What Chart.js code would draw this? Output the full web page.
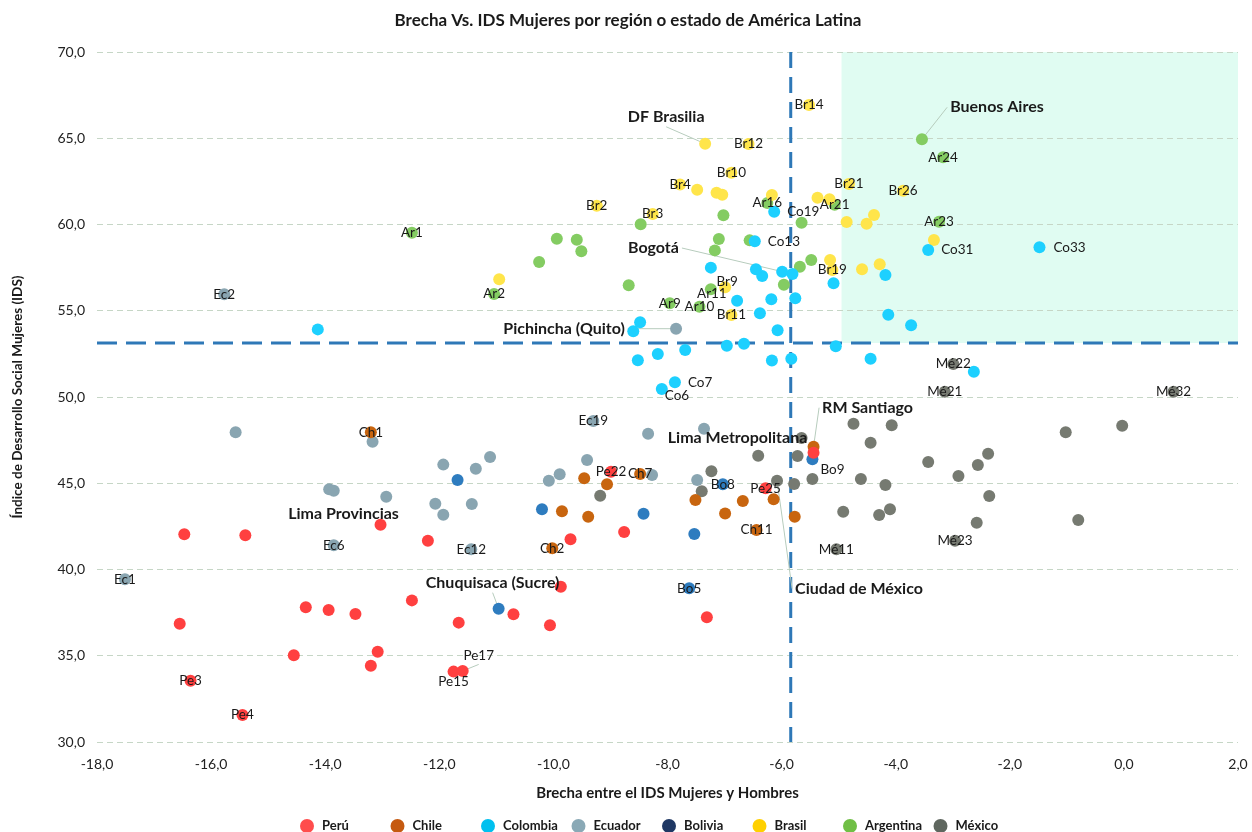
<!DOCTYPE html>
<html><head><meta charset="utf-8">
<script src="https://cdn.jsdelivr.net/npm/chart.js@4.4.1/dist/chart.umd.min.js"></script>
<style>html,body{margin:0;padding:0;background:#fff;}#wrap{width:1252px;height:832px;}</style>
</head><body><div id="wrap"><canvas id="c" width="1252" height="832"></canvas></div>
<script>
const FONT = 'Lato, "Open Sans", "Liberation Sans", sans-serif';
const chartTitle = 'Brecha Vs. IDS Mujeres por región o estado de América Latina';
const xTitle = 'Brecha entre el IDS Mujeres y Hombres';
const yTitle = 'Índice de Desarrollo Social Mujeres (IDS)';
const seriesNames = ['Perú','Chile','Colombia','Ecuador','Bolivia','Brasil','Argentina','México'];

const peruX = [-16.47,-15.40,-16.55,-16.36,-15.45,-14.34,-13.94,-13.47,-14.55,-13.08,-13.20,-13.03,-12.20,-12.48,-11.66,-10.70,-10.06,-9.87,-9.70,-8.76,-11.75,-11.59,-8.99,-6.28,-7.31,-5.44];
const peruY = [42.04,41.98,36.86,33.55,31.57,37.81,37.65,37.42,35.03,35.23,34.42,42.60,41.67,38.21,36.92,37.40,36.77,39.00,41.75,42.17,34.08,34.12,45.67,44.71,37.23,46.77];
const peruLab = ['','','','Pe3','Pe4','','','','','','','Lima Provincias','','','','','','','','','Pe15','Pe17','Pe22','Pe25','','Lima Metropolitana'];

const chileX = [-13.20,-10.02,-9.46,-9.06,-9.85,-9.39,-8.48,-7.51,-6.99,-6.68,-6.14,-6.44,-5.77,-5.44];
const chileY = [47.95,41.23,45.29,44.94,43.37,43.06,45.54,44.03,43.24,43.97,44.07,42.29,43.06,47.12];
const chileLab = ['Ch1','Ch2','','','','','Ch7','','','','','Ch11','','RM Santiago'];

const colX = [-14.13,-8.48,-8.60,-8.17,-8.52,-7.87,-8.10,-6.78,-6.18,-5.76,-6.38,-6.07,-6.96,-6.66,-7.69,-5.05,-6.17,-5.83,-4.44,-4.13,-3.73,-5.09,-4.18,-6.34,-5.81,-6.13,-6.47,-7.24,-6.45,-5.99,-3.43,-1.48,-2.63];
const colY = [53.92,54.33,53.81,52.49,52.13,50.85,50.46,55.58,55.66,55.72,54.85,53.87,52.97,53.09,52.72,52.94,52.11,52.22,52.22,54.77,54.16,56.59,57.07,57.01,57.13,60.74,59.03,57.50,57.40,57.26,58.52,58.68,51.47];
const colLab = ['','','','','','Co7','Co6','','','','','','','','','','','','','','','','','','Bogotá','Co19','Co13','','','','Co31','Co33',''];

const ecX = [-17.51,-15.77,-15.57,-13.17,-13.93,-13.85,-12.93,-13.85,-11.93,-11.36,-11.11,-12.07,-11.93,-11.43,-10.08,-9.89,-9.41,-9.30,-8.34,-8.27,-7.85,-11.44,-7.36,-7.48];
const ecY = [39.43,55.95,47.95,47.41,44.65,44.57,44.22,41.40,46.08,45.84,46.52,43.81,43.18,43.80,45.15,45.52,46.35,48.61,47.87,45.48,53.96,41.17,48.16,45.19];
const ecLab = ['Ec1','Ec2','','','','','','Ec6','','','','','','','','','','Ec19','','','Pichincha (Quito)','Ec12','',''];

const boX = [-11.68,-10.20,-8.42,-10.96,-7.62,-7.53,-7.03,-5.46];
const boY = [45.19,43.49,43.23,37.73,38.91,42.06,44.94,46.39];
const boLab = ['','','','Chuquisaca (Sucre)','Bo5','','Bo8','Bo9'];

const brX = [-10.95,-9.24,-8.26,-7.78,-7.34,-6.58,-5.52,-6.88,-7.48,-7.14,-7.04,-6.17,-4.82,-5.37,-5.16,-3.87,-4.38,-4.86,-4.51,-3.33,-5.15,-5.11,-4.59,-4.28,-6.99,-6.88];
const brY = [56.82,61.09,60.61,62.32,64.68,64.67,66.93,63.00,62.02,61.84,61.73,61.71,62.35,61.55,61.46,61.96,60.55,60.14,60.05,59.10,57.94,57.36,57.40,57.69,56.36,54.75];
const brLab = ['','Br2','Br3','Br4','DF Brasilia','Br12','Br14','Br10','','','','','Br21','','','Br26','','','','','','Br19','','','Br9','Br11'];

const arX = [-12.48,-9.94,-9.59,-9.51,-10.25,-8.47,-11.04,-8.68,-7.96,-7.24,-7.44,-5.96,-6.25,-7.02,-7.10,-7.17,-6.56,-5.65,-5.07,-5.48,-5.68,-3.54,-3.17,-3.24];
const arY = [59.52,59.18,59.12,58.45,57.83,60.01,55.97,56.48,55.43,56.24,55.23,56.51,61.25,60.53,59.16,58.50,59.08,60.10,61.15,57.94,57.55,64.94,63.90,60.16];
const arLab = ['Ar1','','','','','','Ar2','','Ar9','Ar11','Ar10','','Ar16','','','','','','Ar21','','','Buenos Aires','Ar24','Ar23'];

const meX = [-4.74,-4.07,-4.44,-5.65,-5.72,-6.41,-3.43,-2.90,-4.61,-4.18,-5.46,-5.78,-6.08,-7.23,-7.40,-4.92,-4.29,-4.10,-9.18,-2.99,-3.14,0.87,-1.02,-0.03,-2.38,-2.56,-2.36,-2.58,-0.80,-5.04,-2.96];
const meY = [48.45,48.36,47.35,47.62,46.58,46.60,46.23,45.42,45.25,44.90,45.25,44.96,45.15,45.69,44.53,43.35,43.16,43.49,44.28,51.91,50.31,50.31,47.95,48.34,46.71,46.06,44.26,42.71,42.87,41.17,41.67];
const meLab = ['','','','','','','','','','','','','Ciudad de México','','','','','','','Mé22','Mé21','Mé32','','','','','','','','Mé11','Mé23'];

// reference lines / highlighted quadrant
const avgGap = -5.84;
const avgIDS = 53.13;
const shadeFromGap = -4.95;

const xMin = -18, xMax = 2, xStep = 2;
const yMin = 30, yMax = 70, yStep = 5;

// styles
const pointColors = ['#ff4040','#c8650f','#1dd0ff','#89a5b1','#2e7cbf','#ffe54a','#84cc62','#767a71'];
const legendColors = ['#ff4d4d','#c55a11','#00c0ef','#8aa9b6','#1f3864','#ffd000','#70bf45','#5f675f'];
const callouts = {
  'DF Brasilia': {dx:-39, dy:-27, leader:'bottom'},
  'Buenos Aires': {dx:75, dy:-32, leader:'left'},
  'Bogotá': {dx:-139, dy:-26, leader:'right'},
  'Pichincha (Quito)': {dx:-112, dy:0, leader:'right'},
  'RM Santiago': {dx:54, dy:-39, leader:'left'},
  'Lima Metropolitana': {dx:-76, dy:-15},
  'Lima Provincias': {dx:-37, dy:-11},
  'Chuquisaca (Sucre)': {dx:-6, dy:-26, leader:'bottom'},
  'Ciudad de México': {dx:82, dy:108, leader:'left'}
};
const smallPlacement = {
  Co13:{right:13, dy:0}, Co19:{right:13, dy:0}, Co31:{right:13, dy:0}, Co33:{right:14, dy:0},
  Co7:{right:13, dy:0}, Co6:{right:3, dy:7}, Bo9:{right:8, dy:10},
  Pe17:{dx:16, dy:-15, leader:'bottom'}, Pe15:{dx:0, dy:10},
  Br9:{dx:2, dy:-6}, Ar11:{dx:1, dy:4}
};
const smallFont = '13.5px ' + FONT;
const boldFont = 'bold 16px ' + FONT;

const xs = [peruX, chileX, colX, ecX, boX, brX, arX, meX];
const ys = [peruY, chileY, colY, ecY, boY, brY, arY, meY];
const labs = [peruLab, chileLab, colLab, ecLab, boLab, brLab, arLab, meLab];

const fmt = v => Number(v).toFixed(1).replace('.', ',');

const datasets = seriesNames.map((name, i) => ({
  label: name,
  data: xs[i].map((x, j) => ({x: x, y: ys[i][j]})),
  backgroundColor: pointColors[i],
  borderWidth: 0,
  pointRadius: 6,
  pointHoverRadius: 6
}));

function labelBox(ctx, pt, text, cfg, bold) {
  const w = ctx.measureText(text).width;
  const h = bold ? 16 : 13;
  let cx = pt.x, cy = pt.y;
  if (cfg) {
    if (cfg.right !== undefined) { cx = pt.x + cfg.right + w / 2; cy = pt.y + (cfg.dy || 0); }
    else { cx = pt.x + (cfg.dx || 0); cy = pt.y + (cfg.dy || 0); }
  }
  let anchor = null;
  if (cfg && cfg.leader) {
    if (cfg.leader === 'left') anchor = {x: cx - w / 2 - 3, y: cy};
    else if (cfg.leader === 'right') anchor = {x: cx + w / 2 + 3, y: cy};
    else if (cfg.leader === 'bottom') anchor = {x: cx, y: cy + h / 2 + 2};
  }
  return {cx, cy, anchor};
}

const decorPlugin = {
  id: 'decor',
  beforeDraw(chart) {
    const {ctx, scales: {x, y}} = chart;
    ctx.save();
    ctx.fillStyle = '#e0fcf2';
    const x0 = x.getPixelForValue(shadeFromGap), x1 = x.getPixelForValue(xMax);
    const y0 = y.getPixelForValue(yMax), y1 = y.getPixelForValue(avgIDS);
    ctx.fillRect(x0, y0, x1 - x0, y1 - y0);
    ctx.restore();
  },
  beforeDatasetsDraw(chart) {
    const {ctx, chartArea: a, scales: {x, y}} = chart;
    ctx.save();
    ctx.strokeStyle = '#2e78b7';
    ctx.lineWidth = 3;
    ctx.setLineDash([20, 9]);
    const hy = y.getPixelForValue(avgIDS);
    ctx.beginPath(); ctx.moveTo(a.left, hy); ctx.lineTo(a.right, hy); ctx.stroke();
    ctx.setLineDash([16, 9]);
    const vx = x.getPixelForValue(avgGap);
    ctx.beginPath(); ctx.moveTo(vx, a.top); ctx.lineTo(vx, a.bottom); ctx.stroke();
    ctx.setLineDash([]);
    ctx.strokeStyle = '#b7ccbd';
    ctx.lineWidth = 1;
    chart.data.datasets.forEach((ds, i) => {
      const meta = chart.getDatasetMeta(i);
      labs[i].forEach((t, j) => {
        if (!t) return;
        const bold = !!callouts[t];
        const cfg = callouts[t] || smallPlacement[t];
        if (!cfg || !cfg.leader) return;
        ctx.font = bold ? boldFont : smallFont;
        const pt = meta.data[j];
        const b = labelBox(ctx, pt, t, cfg, bold);
        ctx.beginPath(); ctx.moveTo(b.anchor.x, b.anchor.y); ctx.lineTo(pt.x, pt.y); ctx.stroke();
      });
    });
    ctx.restore();
  },
  afterDatasetsDraw(chart) {
    const {ctx} = chart;
    ctx.save();
    ctx.textAlign = 'center';
    ctx.textBaseline = 'middle';
    ctx.fillStyle = '#1a1a1a';
    chart.data.datasets.forEach((ds, i) => {
      const meta = chart.getDatasetMeta(i);
      labs[i].forEach((t, j) => {
        if (!t) return;
        const bold = !!callouts[t];
        const cfg = callouts[t] || smallPlacement[t];
        ctx.font = bold ? boldFont : smallFont;
        const b = labelBox(ctx, meta.data[j], t, cfg, bold);
        ctx.fillText(t, b.cx, b.cy);
      });
    });
    ctx.restore();
  },
  afterDraw(chart) {
    const {ctx} = chart;
    ctx.save();
    ctx.fillStyle = '#1a1a1a';
    ctx.font = 'bold 17px ' + FONT;
    ctx.textAlign = 'center';
    ctx.textBaseline = 'middle';
    ctx.fillText(chartTitle, 628, 21);
    ctx.font = 'bold 13px ' + FONT;
    ctx.textAlign = 'left';
    const ly = 826, step = 90.5, start = 307;
    seriesNames.forEach((n, i) => {
      const cx = start + i * step;
      ctx.fillStyle = legendColors[i];
      ctx.beginPath(); ctx.arc(cx, ly, 7, 0, Math.PI * 2); ctx.fill();
      ctx.fillStyle = '#1a1a1a';
      ctx.fillText(n, cx + 15, ly);
    });
    ctx.restore();
  }
};

new Chart(document.getElementById('c'), {
  type: 'scatter',
  data: {datasets},
  options: {
    responsive: false,
    animation: false,
    devicePixelRatio: 1,
    layout: {padding: {top: 52, right: 14, bottom: 28, left: 0}},
    plugins: {legend: {display: false}, title: {display: false}, tooltip: {enabled: false}},
    events: [],
    scales: {
      x: {
        type: 'linear', min: xMin, max: xMax,
        ticks: {stepSize: xStep, padding: 14, color: '#222', font: {family: FONT, size: 14}, callback: v => fmt(v), maxRotation: 0, autoSkip: false},
        grid: {display: false, drawTicks: false},
        border: {display: false},
        title: {display: true, text: xTitle, color: '#1a1a1a', font: {family: FONT, size: 15, weight: 'bold'}, padding: {top: 0, bottom: 2}},
        afterFit(s) { s.height = 62; s.paddingRight = 0; s.paddingLeft = 0; }
      },
      y: {
        type: 'linear', min: yMin, max: yMax,
        ticks: {stepSize: yStep, padding: 12, color: '#222', font: {family: FONT, size: 14}, callback: v => fmt(v)},
        grid: {color: '#c6d6c6', lineWidth: 1, drawTicks: false},
        border: {display: false, dash: [6, 4]},
        title: {display: true, text: yTitle, color: '#1a1a1a', font: {family: FONT, size: 13.5, weight: 'bold'}, padding: {top: 10, bottom: 0}},
        afterFit(s) { s.width = 97; s.paddingTop = 0; s.paddingBottom = 0; }
      }
    }
  },
  plugins: [decorPlugin]
});
</script>
</body></html>
